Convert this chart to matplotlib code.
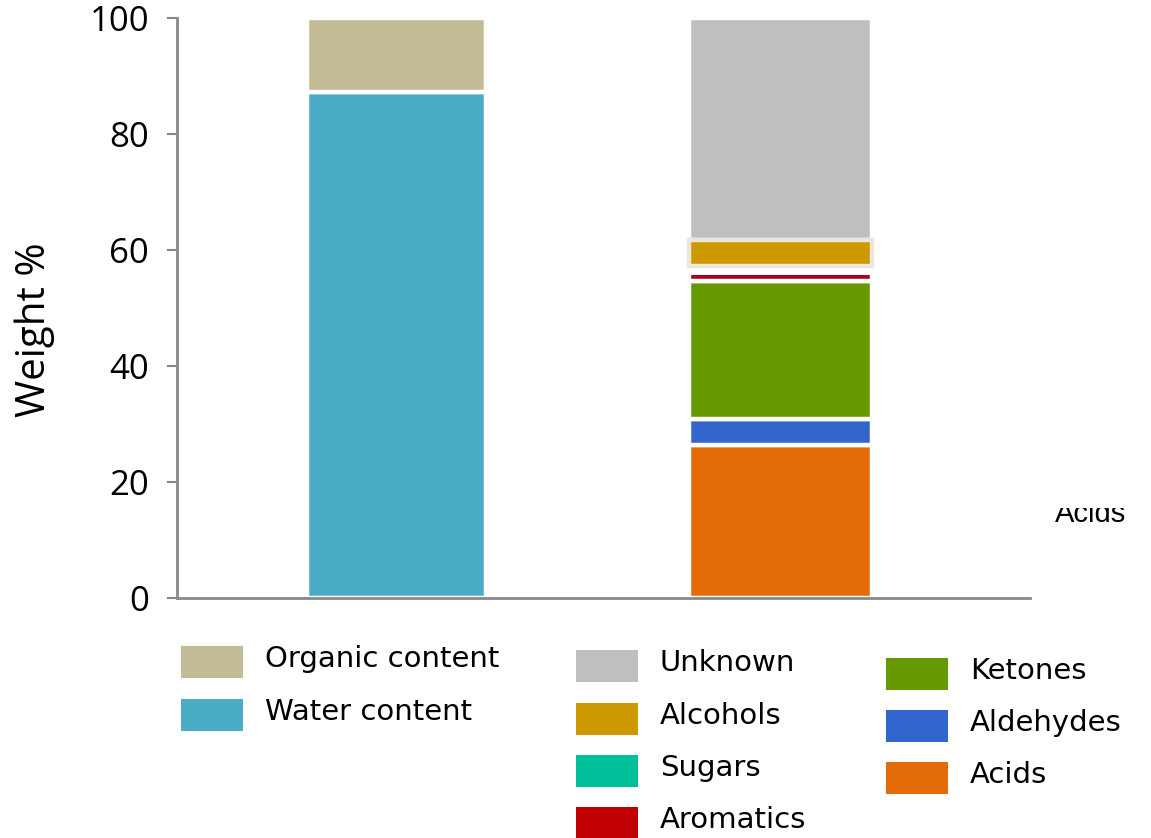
import matplotlib.pyplot as plt
from matplotlib.patches import Rectangle

# bar 1: water / organic split
bar1_labels = ["Water content", "Organic content"]
bar1_values = [87.2, 12.8]
bar1_colors = ["#4bacc6", "#c4bc96"]

# bar 2: composition of the organic fraction (bottom -> top)
bar2_labels = ["Acids", "Aldehydes", "Ketones", "Aromatics", "Sugars", "Alcohols", "Unknown"]
bar2_values = [26.3, 4.6, 23.8, 1.6, 0.9, 4.6, 38.2]
bar2_colors = ["#e36c09", "#3366cc", "#669900", "#c00000", "#00c09a", "#cc9900", "#bfbfbf"]

yticks = [0, 20, 40, 60, 80, 100]

W, H = 1151, 838
fig = plt.figure(figsize=(W / 100, H / 100), dpi=100)
ax = fig.add_axes([177 / W, 1 - 598 / H, (1030 - 177) / W, (598 - 18) / H])

gray = "#898989"
font = "Open Sans"

bottom = 0
for v, c in zip(bar1_values, bar1_colors):
    ax.bar(0, v, bottom=bottom, width=0.465, color=c, edgecolor="white", linewidth=3.2, zorder=2)
    bottom += v

bottom = 0
for lab, v, c in zip(bar2_labels, bar2_values, bar2_colors):
    edge, lw, z = "white", 3.2, 2
    if lab == "Sugars":
        lw = 5          # sliver is hidden under its outline
    if lab == "Aromatics":
        c = "#a8001e"
    if lab == "Alcohols":
        edge, z = "#ebe7dc", 3   # faint glow round the selected segment
    ax.bar(1, v, bottom=bottom, width=0.475, color=c, edgecolor=edge, linewidth=lw, zorder=z)
    bottom += v

ax.set_xlim(-0.572, 1.65)
ax.set_ylim(0, 100)
ax.set_yticks(yticks)
ax.set_yticklabels([str(t) for t in yticks], fontsize=25, family=font)
ax.set_xticks([])
ax.tick_params(axis="y", length=7, width=1.5, color=gray, pad=13)
for s in ["top", "right"]:
    ax.spines[s].set_visible(False)
for s in ["left", "bottom"]:
    ax.spines[s].set_color(gray)
    ax.spines[s].set_linewidth(2)
ax.set_ylabel("Weight %", fontsize=29, family=font)
ax.yaxis.set_label_coords(-0.143, 0.462)

# stray, partly hidden label on the right
fig.text(1055 / W, 1 - 522 / H, "Acids", fontsize=21, family="Liberation Sans", va="baseline")
fig.add_artist(Rectangle((1040 / W, 1 - 508 / H), 100 / W, 30 / H, transform=fig.transFigure,
                         facecolor="white", edgecolor="none", zorder=5))


# legend drawn by hand in three columns
def legend_column(labels, colors, x0, y_centers):
    for lab, c, yc in zip(labels, colors, y_centers):
        fig.add_artist(Rectangle((x0 / W, 1 - (yc + 16) / H), 62 / W, 32 / H,
                                 transform=fig.transFigure, facecolor=c, edgecolor="none"))
        fig.text((x0 + 84) / W, 1 - (yc - 3) / H, lab, fontsize=21, family="DejaVu Sans", va="center")


legend_column(["Organic content", "Water content"], ["#c4bc96", "#4bacc6"], 181, [662, 715])
legend_column(["Unknown", "Alcohols", "Sugars", "Aromatics"],
              ["#bfbfbf", "#cc9900", "#00c09a", "#c00000"], 576, [666, 719, 771, 823])
legend_column(["Ketones", "Aldehydes", "Acids"], ["#669900", "#3366cc", "#e36c09"], 886, [674, 726, 778])

fig.savefig("out.png", dpi=100)
